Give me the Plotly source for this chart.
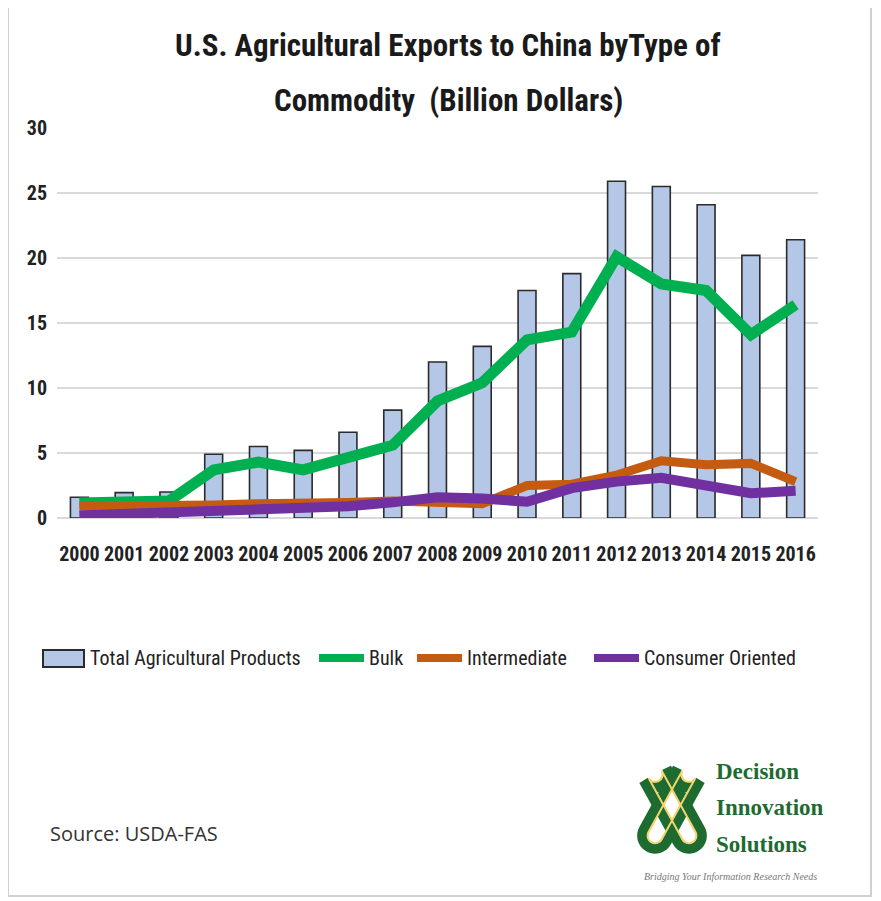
import numpy as np
import plotly.graph_objects as go

years = [str(y) for y in range(2000, 2017)]
total = [1.6, 1.95, 2.0, 4.9, 5.5, 5.2, 6.6, 8.3, 12.0, 13.2, 17.5, 18.8, 25.9, 25.5, 24.1, 20.2, 21.4]
bulk = [1.15, 1.2, 1.3, 3.7, 4.3, 3.7, 4.6, 5.6, 9.0, 10.4, 13.7, 14.3, 20.1, 18.0, 17.5, 14.1, 16.4]
intermediate = [0.9, 0.9, 1.0, 1.0, 1.1, 1.1, 1.2, 1.3, 1.15, 1.1, 2.5, 2.6, 3.3, 4.4, 4.1, 4.2, 2.8]
consumer = [0.2, 0.3, 0.35, 0.45, 0.55, 0.7, 0.9, 1.2, 1.6, 1.5, 1.25, 2.3, 2.8, 3.1, 2.5, 1.9, 2.1]
y_ticks = [0, 5, 10, 15, 20, 25, 30]
series_names = ["Total Agricultural Products", "Bulk", "Intermediate", "Consumer Oriented"]
series_colors = ["#b4c7e7", "#00b050", "#c55a11", "#7030a0"]

FONT = "Liberation Sans Narrow, Roboto Condensed, Arial Narrow, Open Sans, sans-serif"

# page has an 8px body margin; figure is sized/offset to match reference pixels
W, H = 873, 893
PL, PR, PT, PB = 57, 818, 128, 518   # plot area in reference page pixels


def P(px, py):
    return (px - PL) / (PR - PL), (PB - py) / (PB - PT)


fig = go.Figure()
fig.add_trace(go.Bar(x=years, y=total, name=series_names[0],
                     marker=dict(color=series_colors[0], line=dict(color="#2b2b2b", width=1.6)),
                     width=0.4))
fig.add_trace(go.Scatter(x=years, y=bulk, name=series_names[1], mode="lines",
                         line=dict(color=series_colors[1], width=11)))
fig.add_trace(go.Scatter(x=years, y=intermediate, name=series_names[2], mode="lines",
                         line=dict(color=series_colors[2], width=9)))
fig.add_trace(go.Scatter(x=years, y=consumer, name=series_names[3], mode="lines",
                         line=dict(color=series_colors[3], width=10)))

fig.update_layout(
    width=W, height=H,
    margin=dict(l=PL - 8, r=W - (PR - 8), t=PT - 8, b=H - (PB - 8)),
    paper_bgcolor="white", plot_bgcolor="white",
    font=dict(family=FONT, size=16, color="#222"),
    showlegend=False,
)
fig.update_xaxes(type="category", showgrid=False, showline=False, ticks="",
                 tickfont=dict(family=FONT, size=20, color="#222", weight="bold"),
                 ticklabelstandoff=22)
fig.update_yaxes(range=[0, 30], tickvals=y_ticks, showgrid=True, gridcolor="#d9d9d9",
                 gridwidth=2, zeroline=True, zerolinecolor="#d9d9d9", zerolinewidth=2,
                 showline=False, ticks="",
                 tickfont=dict(family=FONT, size=20, color="#222", weight="bold"),
                 ticklabelstandoff=9)

# title (two lines)
for txt, ty in [("U.S. Agricultural Exports to China byType of", 45), ("Commodity  (Billion Dollars)", 100)]:
    x, y = P(448, ty)
    fig.add_annotation(text=txt, xref="paper", yref="paper", x=x, y=y,
                       xanchor="center", yanchor="middle", showarrow=False,
                       font=dict(family=FONT, size=31, color="#1a1a1a", weight="bold"))

# frame border
x0, y0 = P(8, 896)
x1, y1 = P(871, 6)
fig.add_shape(type="rect", xref="paper", yref="paper", x0=x0, x1=x1, y0=y0, y1=y1,
              line=dict(color="#d0d0d0", width=2), layer="below")

# custom legend
LY = 658
ax0, ay0 = P(43, 650)
ax1, ay1 = P(84, 667)
fig.add_shape(type="rect", xref="paper", yref="paper", x0=ax0, x1=ax1, y0=ay0, y1=ay1,
              fillcolor=series_colors[0], line=dict(color="#2b2b2b", width=2))
legend_items = [
    (None, 88, series_names[0]),
    ((319, 364), 367, series_names[1]),
    ((417, 462), 465, series_names[2]),
    ((594, 639), 642, series_names[3]),
]
for i, (seg, tx, name) in enumerate(legend_items):
    if seg is not None:
        sx0, sy = P(seg[0], LY)
        sx1, _ = P(seg[1], LY)
        fig.add_shape(type="line", xref="paper", yref="paper", x0=sx0, x1=sx1, y0=sy, y1=sy,
                      line=dict(color=series_colors[i], width=8))
    x, y = P(tx, LY)
    fig.add_annotation(text=name, xref="paper", yref="paper", x=x, y=y,
                       xanchor="left", yanchor="middle", showarrow=False,
                       font=dict(family=FONT, size=20, color="#222"))

x, y = P(48, 833)
fig.add_annotation(text="Source: USDA-FAS", xref="paper", yref="paper",
                   x=x, y=y, xanchor="left", yanchor="middle",
                   showarrow=False, font=dict(family="Open Sans, sans-serif", size=20, color="#333"))

# logo text
SERIF = "Liberation Serif, DejaVu Serif, serif"
for txt, ty in [("Decision", 771), ("Innovation", 807), ("Solutions", 844)]:
    x, y = P(714, ty)
    fig.add_annotation(text=txt, xref="paper", yref="paper", x=x, y=y,
                       xanchor="left", yanchor="middle", showarrow=False,
                       font=dict(family=SERIF, size=23, color="#1d6b30", weight="bold"))
x, y = P(730, 877)
fig.add_annotation(text="<i>Bridging Your Information Research Needs</i>", xref="paper", yref="paper",
                   x=x, y=y, xanchor="center", yanchor="middle",
                   showarrow=False, font=dict(family=SERIF, size=10, color="#777"))


# logo knot: two crossing stadium loops
def stadium(cx, cy, ux, uy, half, r, n=18):
    norm = (ux ** 2 + uy ** 2) ** 0.5
    ux, uy = ux / norm, uy / norm
    nx, ny = -uy, ux
    pts = []
    base = np.arctan2(ny, nx)
    for end, sgn in ((1, -1), (-1, 1)):
        ex, ey = cx + end * half * ux, cy + end * half * uy
        start = base + (0 if end == 1 else np.pi)
        for t in np.linspace(0, np.pi, n):
            a = start + sgn * t
            pts.append((ex + r * np.cos(a), ey + r * np.sin(a)))
    path = ""
    for k, (a, b) in enumerate(pts):
        x, y = P(a, b)
        path += ("M" if k == 0 else "L") + f" {x:.5f} {y:.5f} "
    return path + "Z"


for ux, uy in ((0.55, 1.0), (-0.55, 1.0)):
    fig.add_shape(type="path", xref="paper", yref="paper",
                  path=stadium(672, 805, ux, uy, 35, 13),
                  line=dict(color="#1d6b30", width=10))
for ux, uy in ((0.55, 1.0), (-0.55, 1.0)):
    fig.add_shape(type="path", xref="paper", yref="paper",
                  path=stadium(672, 805, ux, uy, 35, 7.5),
                  line=dict(color="#f3d36b", width=2))

fig.write_html("out.html")
